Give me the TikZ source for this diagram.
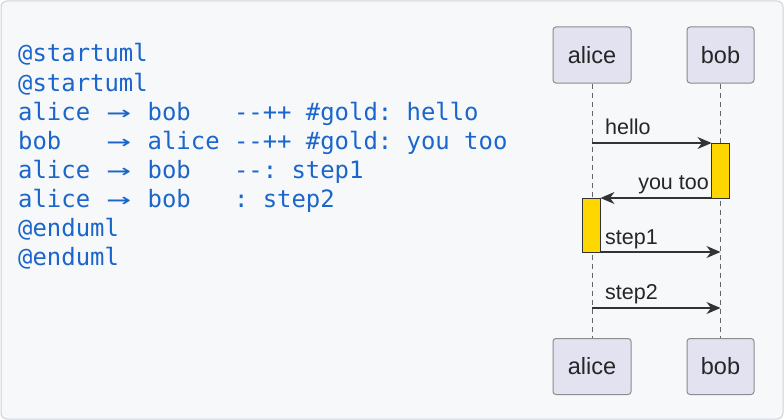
\documentclass[tikz,border=0pt]{standalone}
\usepackage{fontspec}
\setmainfont{Liberation Sans}
\newfontfamily\codefont{DejaVu Sans Mono}
\usetikzlibrary{arrows.meta}
\definecolor{bgc}{HTML}{F7F8FA}
\definecolor{framec}{HTML}{CDD2D8}
\definecolor{codec}{HTML}{1A66CC}
\definecolor{partfill}{HTML}{E2E2F0}
\definecolor{partdraw}{HTML}{8C8C8C}
\definecolor{goldc}{HTML}{FFD700}
\definecolor{linec}{HTML}{333333}
\newcommand\codearr{\makebox[2\fontcharwd\font`x][c]{\scalebox{1.7}[1]{→}}}
\frenchspacing
\begin{document}
\begin{tikzpicture}[x=1pt,y=-1pt,
  codeline/.style={anchor=base west,inner sep=0pt,text=codec,font=\codefont\fontsize{23.9}{29}\selectfont},
  part/.style={draw=partdraw,fill=partfill,rounded corners=3pt,line width=1pt,minimum height=56pt,inner sep=0pt,font=\fontsize{23.5}{28}\selectfont,text=black!85},
  lifeline/.style={draw=black!60,dashed,dash pattern=on 5pt off 4pt,line width=0.8pt},
  actbox/.style={draw=linec,fill=goldc,line width=1pt},
  msg/.style={draw=linec,line width=1.2pt,-{Stealth[length=14pt,width=12pt,inset=4.5pt]}},
  lbl/.style={inner sep=0pt,font=\fontsize{21.5}{26}\selectfont,text=black!85}]
\useasboundingbox (0,0) rectangle (784,420);
\draw[framec,fill=bgc,rounded corners=6pt,line width=1pt] (1,1) rectangle (783,419);
% code
\node[codeline] (c1) at (18,62) {@startuml};
\node[codeline] (c2) at (18,91) {@startuml};
\node[codeline] (c3) at (18,120) {alice \codearr\ bob\ \ \ --++ \#gold: hello};
\node[codeline] (c4) at (18,149) {bob\ \ \ \codearr\ alice --++ \#gold: you too};
\node[codeline] (c5) at (18,178) {alice \codearr\ bob\ \ \ --: step1};
\node[codeline] (c6) at (18,207) {alice \codearr\ bob\ \ \ : step2};
\node[codeline] (c7) at (18,236) {@enduml};
\node[codeline] (c8) at (18,265) {@enduml};
% participants
\node[part,minimum width=78pt] (at) at (592,55) {alice};
\node[part,minimum width=67pt] (bt) at (720.5,55) {bob};
\node[part,minimum width=78pt] (ab) at (592,366.5) {alice};
\node[part,minimum width=67pt] (bb) at (720.5,366.5) {bob};
\draw[lifeline] (at.south) -- (ab.north);
\draw[lifeline] (bt.south) -- (bb.north);
% activations
\draw[actbox] (711.5,143) rectangle (729.5,198);
\draw[actbox] (582.5,198) rectangle (600.5,252);
\coordinate (a1) at (592,143);
\coordinate (b1) at (711.5,143);
\coordinate (b2) at (711.5,198);
\coordinate (a2) at (600.5,198);
\coordinate (a3) at (600.5,252);
\coordinate (b3) at (720.5,252);
\coordinate (a4) at (592,308);
\coordinate (b4) at (720.5,308);
\draw[msg] (a1) -- (b1);
\draw[msg] (b2) -- (a2);
\draw[msg] (a3) -- (b3);
\draw[msg] (a4) -- (b4);
\node[lbl,anchor=base west] (l1) at (605,134) {hello};
\node[lbl,anchor=base east] (l2) at (709,189) {you too};
\node[lbl,anchor=base west] (l3) at (605,244) {step1};
\node[lbl,anchor=base west] (l4) at (605,299) {step2};
\end{tikzpicture}
\end{document}
